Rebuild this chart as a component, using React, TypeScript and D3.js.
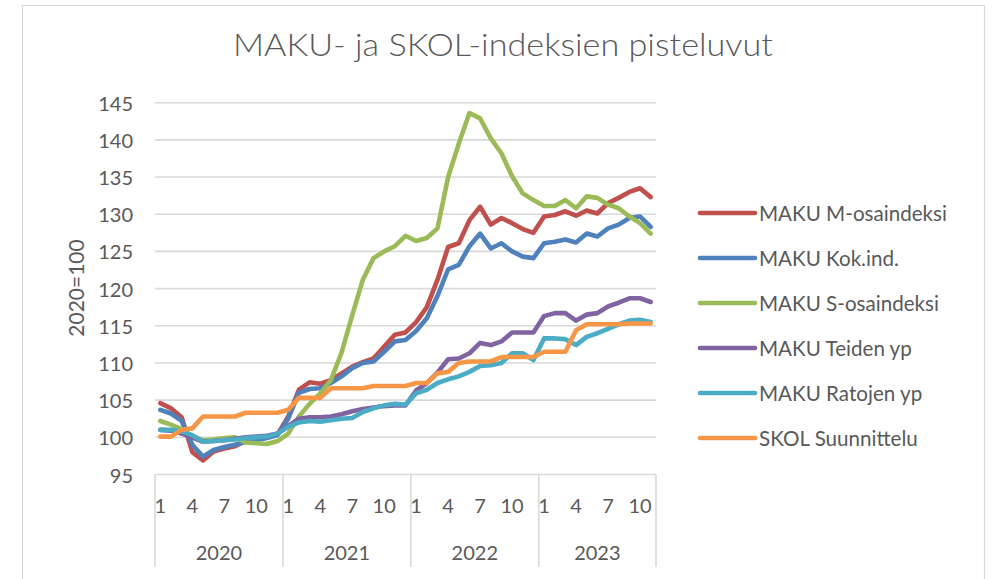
import React from "react";
import * as d3 from "d3";

const years = ["2020", "2021", "2022", "2023"];
const monthsPerYear = [12, 12, 12, 11];
const monthTickLabels = [1, 4, 7, 10];
const yTicks = [95, 100, 105, 110, 115, 120, 125, 130, 135, 140, 145];

const seriesNames = [
  "MAKU M-osaindeksi",
  "MAKU Kok.ind.",
  "MAKU S-osaindeksi",
  "MAKU Teiden yp",
  "MAKU Ratojen yp",
  "SKOL Suunnittelu",
];
const seriesColors = ["#C0504D", "#4F81BD", "#9BBB59", "#8064A2", "#4BACC6", "#F79646"];

const makuM = [
  104.6, 103.9, 102.7, 98.0, 96.9, 98.1, 98.5, 98.8, 99.5, 99.7, 100.0, 100.4,
  102.8, 106.4, 107.4, 107.2, 107.7, 108.6, 109.5, 110.1, 110.6, 112.2, 113.8, 114.1,
  115.5, 117.5, 121.2, 125.6, 126.1, 129.2, 131.0, 128.6, 129.5, 128.8, 128.0, 127.5,
  129.7, 129.9, 130.4, 129.8, 130.5, 130.1, 131.5, 132.2, 133.0, 133.5, 132.3,
];
const makuKok = [
  103.7, 103.2, 102.2, 99.0, 97.4, 98.3, 98.7, 99.0, 99.4, 99.6, 99.9, 100.3,
  102.5, 106.0, 106.5, 106.6, 107.3, 108.2, 109.3, 110.0, 110.2, 111.5, 112.9, 113.1,
  114.3, 116.0, 119.0, 122.6, 123.2, 125.7, 127.4, 125.4, 126.1, 125.0, 124.3, 124.1,
  126.1, 126.3, 126.6, 126.2, 127.4, 127.0, 128.1, 128.6, 129.5, 129.7, 128.3,
];
const makuS = [
  102.2, 101.7, 101.1, 100.1, 99.6, 99.7, 99.9, 100.0, 99.3, 99.2, 99.1, 99.5,
  100.5, 102.8, 104.5, 105.9, 107.7, 111.4, 116.4, 121.2, 124.1, 125.0, 125.7, 127.1,
  126.4, 126.8, 128.1, 135.0, 139.5, 143.6, 142.9, 140.2, 138.2, 135.1, 132.8, 131.9,
  131.1, 131.1, 131.9, 130.8, 132.4, 132.2, 131.3, 130.8, 129.7, 128.8, 127.4,
];
const makuTeiden = [
  101.0, 100.9, 100.5, 100.0, 99.4, 99.5, 99.6, 99.8, 100.0, 100.1, 100.2, 100.5,
  101.5, 102.5, 102.7, 102.7, 102.8, 103.1, 103.5, 103.8, 104.0, 104.2, 104.3, 104.3,
  106.3, 107.3, 108.7, 110.5, 110.6, 111.3, 112.7, 112.4, 112.9, 114.1, 114.1, 114.1,
  116.3, 116.7, 116.7, 115.7, 116.5, 116.7, 117.6, 118.1, 118.7, 118.7, 118.2,
];
const makuRatojen = [
  101.0, 101.0, 100.8, 100.3, 99.4, 99.5, 99.6, 99.7, 99.9, 100.0, 100.1, 100.5,
  101.4, 102.0, 102.2, 102.1, 102.3, 102.5, 102.6, 103.4, 103.9, 104.3, 104.5, 104.4,
  105.9, 106.4, 107.3, 107.8, 108.2, 108.8, 109.6, 109.7, 110.0, 111.3, 111.3, 110.4,
  113.3, 113.3, 113.2, 112.4, 113.5, 114.0, 114.6, 115.2, 115.7, 115.8, 115.5,
];
const skol = [
  100.1, 100.1, 101.0, 101.2, 102.8, 102.8, 102.8, 102.8, 103.3, 103.3, 103.3, 103.3,
  103.7, 105.3, 105.3, 105.3, 106.6, 106.6, 106.6, 106.6, 106.9, 106.9, 106.9, 106.9,
  107.3, 107.3, 108.6, 108.8, 110.0, 110.2, 110.2, 110.2, 110.8, 110.8, 110.8, 110.8,
  111.5, 111.5, 111.5, 114.4, 115.2, 115.2, 115.2, 115.2, 115.3, 115.3, 115.3,
];
const seriesValues = [makuM, makuKok, makuS, makuTeiden, makuRatojen, skol];

const W = 993;
const H = 579;
const FONT = "Lato, 'Open Sans', sans-serif";
const TEXT = "#595959";
const GRID = "#d9d9d9";

export default function App() {
  const categories: { year: number; month: number; key: string }[] = [];
  years.forEach((y, yi) => {
    for (let m = 1; m <= monthsPerYear[yi]; m++) categories.push({ year: yi, month: m, key: `${y}-${m}` });
  });

  const x = d3
    .scaleBand<string>()
    .domain(categories.map((c) => c.key))
    .range([155, 656])
    .paddingInner(0)
    .paddingOuter(0);
  const bw = x.bandwidth();
  const cx = (i: number) => (x(categories[i].key) as number) + bw / 2;

  const y = d3.scaleLinear().domain([95, 145]).range([474.5, 102.7]);

  const line = d3
    .line<number>()
    .x((_, i) => cx(i))
    .y((d) => y(d));

  const yearStarts: number[] = [];
  let acc = 0;
  monthsPerYear.forEach((n) => {
    yearStarts.push(acc);
    acc += n;
  });
  const boundaryX = yearStarts.map((s) => x(categories[s].key) as number);
  boundaryX.push(x.range()[1]);

  const legendX0 = 700;
  const legendX1 = 755;
  const legendY0 = 213;
  const legendStep = 45;

  return (
    <svg
      width={W}
      height={H}
      style={{ position: "absolute", left: 0, top: 0, background: "#fff" }}
      fontFamily={FONT}
    >
      <rect x={0} y={0} width={W} height={H} fill="#fff" />
      <rect x={22.5} y={5.5} width={962} height={H + 10} fill="none" stroke={GRID} strokeWidth={1.2} />

      <text
        x={503}
        y={48}
        textAnchor="middle"
        dominantBaseline="middle"
        fontSize={32}
        fontWeight={300}
        fill={TEXT}
        textLength={540}
        lengthAdjust="spacingAndGlyphs"
      >
        MAKU- ja SKOL-indeksien pisteluvut
      </text>

      {yTicks.map((t) => (
        <line key={t} x1={155} x2={656} y1={y(t)} y2={y(t)} stroke={GRID} strokeWidth={1.6} />
      ))}

      {yTicks.map((t) => (
        <text key={"l" + t} x={133} y={y(t)} textAnchor="end" dominantBaseline="central" fontSize={20} fill={TEXT}>
          {t}
        </text>
      ))}

      <text
        transform={`translate(75,288) rotate(-90)`}
        textAnchor="middle"
        dominantBaseline="central"
        fontSize={21}
        fill={TEXT}
      >
        2020=100
      </text>

      {boundaryX.map((bx, i) => (
        <line key={"b" + i} x1={bx} x2={bx} y1={y(95)} y2={567} stroke={GRID} strokeWidth={1.6} />
      ))}

      {categories.map((c, i) =>
        monthTickLabels.includes(c.month) ? (
          <text key={"m" + i} x={cx(i)} y={505} textAnchor="middle" dominantBaseline="central" fontSize={20} fill={TEXT}>
            {c.month}
          </text>
        ) : null
      )}

      {years.map((yr, yi) => (
        <text
          key={yr}
          x={(boundaryX[yi] + boundaryX[yi + 1]) / 2}
          y={552}
          textAnchor="middle"
          dominantBaseline="central"
          fontSize={20}
          fill={TEXT}
        >
          {yr}
        </text>
      ))}

      {seriesValues.map((vals, si) => (
        <path
          key={seriesNames[si]}
          d={line(vals) || ""}
          fill="none"
          stroke={seriesColors[si]}
          strokeWidth={4.6}
          strokeLinejoin="round"
          strokeLinecap="round"
        />
      ))}

      {seriesNames.map((name, si) => {
        const ly = legendY0 + si * legendStep;
        return (
          <g key={"lg" + si}>
            <line x1={legendX0} x2={legendX1} y1={ly} y2={ly} stroke={seriesColors[si]} strokeWidth={4.6} strokeLinecap="round" />
            <text x={759} y={ly} dominantBaseline="central" fontSize={20.6} fill={TEXT}>
              {name}
            </text>
          </g>
        );
      })}
    </svg>
  );
}
